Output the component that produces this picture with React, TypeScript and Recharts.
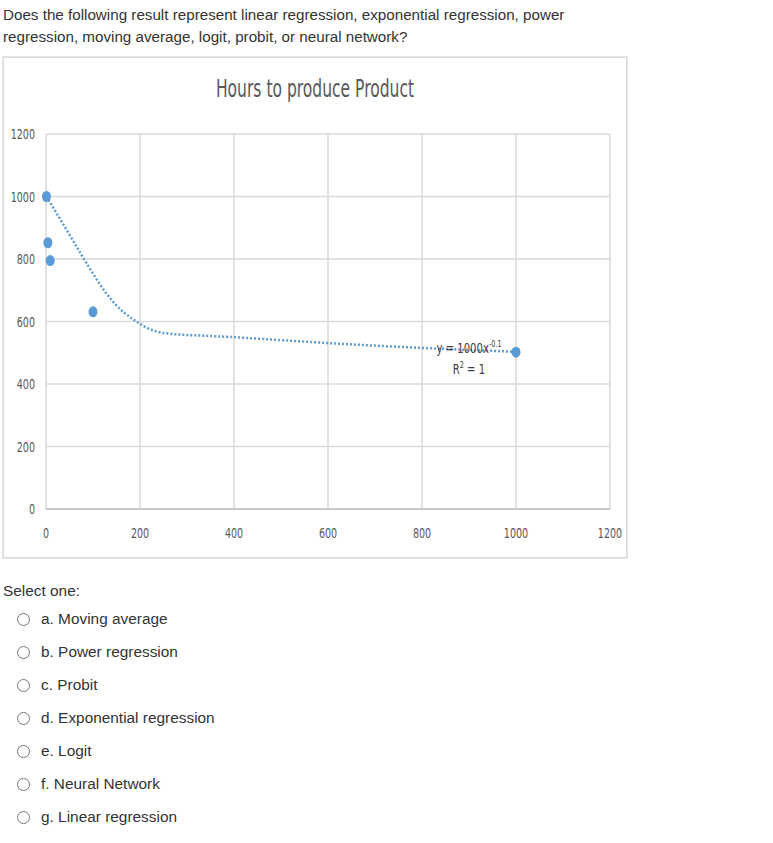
import { ComposedChart, CartesianGrid, Line, Scatter, XAxis, YAxis } from 'recharts'

const xTicks = [0, 200, 400, 600, 800, 1000, 1200]
const yTicks = [0, 200, 400, 600, 800, 1000, 1200]

// observed points (x = units produced, y = hours)
const unitsProduced = [1, 4, 9, 100, 1000]
const hoursObserved = [1000, 852, 795, 631, 502]

// dotted power trendline
const trendX = [1, 11, 50, 84, 131, 166, 195, 223, 259, 309, 409, 600, 800, 1000]
const trendY = [1000, 975, 878, 791, 679, 626, 597, 571, 560, 556, 550, 530, 515, 503]

const answers = [
  'a. Moving average',
  'b. Power regression',
  'c. Probit',
  'd. Exponential regression',
  'e. Logit',
  'f. Neural Network',
  'g. Linear regression',
]

const points = unitsProduced.map((x, i) => ({ x, y: hoursObserved[i] }))
const trend = trendX.map((x, i) => ({ x, y: trendY[i] }))

const BLUE = '#5b9bd5'
const NARROW = "'Liberation Sans Narrow', 'DejaVu Sans Condensed', 'DejaVu Sans', sans-serif"
const BODY = "'Liberation Sans', Arial, Helvetica, sans-serif"

// squeezed tick text, the original uses a condensed face
function NarrowTick({ x, y, payload, textAnchor }: any) {
  return (
    <text
      transform={`translate(${x},${y}) scale(0.76,1)`}
      textAnchor={textAnchor}
      dominantBaseline="central"
      fontSize={14}
      fill="#595959"
      fontFamily={NARROW}
    >
      {payload.value}
    </text>
  )
}

export default function App() {
  return (
    <div
      style={{
        position: 'absolute',
        left: 0,
        top: 0,
        width: 773,
        height: 843,
        background: '#fff',
        fontFamily: BODY,
        color: '#333',
      }}
    >
      <div style={{ position: 'absolute', left: 3, top: 4, width: 600, fontSize: 15.2, lineHeight: '22px' }}>
        Does the following result represent linear regression, exponential regression, power regression, moving
        average, logit, probit, or neural network?
      </div>

      <div
        style={{
          position: 'absolute',
          left: 3,
          top: 57,
          width: 622,
          height: 499,
          border: '1px solid #d9d9d9',
          boxShadow: '0 0 0 1px #e6e6e6',
        }}
      >
        <div
          style={{
            position: 'absolute',
            left: 0,
            top: 17,
            width: 622,
            textAlign: 'center',
            fontFamily: NARROW,
            fontSize: 24,
            color: '#595959',
            transform: 'scaleX(0.72)',
          }}
        >
          Hours to produce Product
        </div>

        <ComposedChart
          width={622}
          height={499}
          margin={{ top: 76, right: 16, left: 2, bottom: 18 }}
          style={{ position: 'absolute', left: 0, top: 0 }}
        >
          <CartesianGrid stroke="#d9d9d9" strokeWidth={1.5} horizontalValues={yTicks} verticalValues={xTicks} />
          <XAxis
            dataKey="x"
            type="number"
            domain={[0, 1200]}
            ticks={xTicks}
            axisLine={{ stroke: '#bfbfbf', strokeWidth: 1.5 }}
            tickLine={false}
            height={30}
            tickMargin={18}
            tick={<NarrowTick />}
          />
          <YAxis
            dataKey="y"
            type="number"
            domain={[0, 1200]}
            ticks={yTicks}
            axisLine={false}
            tickLine={false}
            width={40}
            tickMargin={5}
            tick={<NarrowTick />}
          />
          <Line
            data={trend}
            dataKey="y"
            type="basis"
            stroke={BLUE}
            strokeWidth={2.5}
            strokeDasharray="2 2"
            dot={false}
            activeDot={false}
            isAnimationActive={false}
          />
          <Scatter data={points} dataKey="y" fill={BLUE} shape={(p: any) => (
            <ellipse cx={p.cx} cy={p.cy} rx={4.5} ry={5.5} fill={BLUE} />
          )} isAnimationActive={false} />
        </ComposedChart>

        <div
          style={{
            position: 'absolute',
            left: 420,
            top: 278,
            width: 90,
            textAlign: 'center',
            fontFamily: NARROW,
            fontSize: 14,
            lineHeight: '17px',
            color: '#404040',
            transform: 'scaleX(0.8)',
          }}
        >
          <div>
            y = 1000x<sup style={{ fontSize: 9 }}>-0.1</sup>
          </div>
          <div>
            R<sup style={{ fontSize: 9 }}>2</sup> = 1
          </div>
        </div>
      </div>

      <div style={{ position: 'absolute', left: 3, top: 582, fontSize: 15.4 }}>Select one:</div>
      {answers.map((a, i) => (
        <div
          key={a}
          style={{ position: 'absolute', left: 17, top: 610 + i * 33, fontSize: 15.4, display: 'flex', alignItems: 'center' }}
        >
          <span
            style={{
              display: 'inline-block',
              width: 11,
              height: 11,
              borderRadius: '50%',
              border: '1px solid #767676',
              marginRight: 11,
            }}
          />
          <span>{a}</span>
        </div>
      ))}
    </div>
  )
}
